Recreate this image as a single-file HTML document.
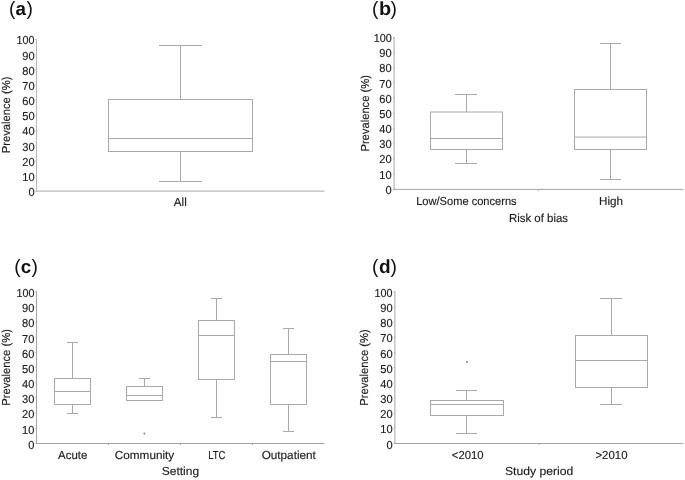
<!DOCTYPE html>
<html><head><meta charset="utf-8"><title>Figure</title>
<style>
html,body{margin:0;padding:0;background:#fff;}
svg{display:block;will-change:transform;}
text{font-family:"Liberation Sans",sans-serif;fill:#1c1c1c;text-rendering:geometricPrecision;stroke:#1c1c1c;stroke-width:0.15px;}
.t{fill:#111;stroke:none;}
</style></head>
<body>
<svg width="685" height="480" viewBox="0 0 685 480">
<rect x="0" y="0" width="685" height="480" fill="#ffffff"/>
<line x1="36.5" y1="39.0" x2="36.5" y2="191.6" stroke="#b8b8b8" stroke-width="1"/>
<line x1="36.0" y1="191.1" x2="324.5" y2="191.1" stroke="#a6a6a6" stroke-width="1"/>
<line x1="35.4" y1="191.1" x2="36.5" y2="191.1" stroke="#b8b8b8" stroke-width="1"/>
<text transform="translate(34.6,196.05) scale(0.955,1)" text-anchor="end" font-size="11.6" >0</text>
<line x1="35.4" y1="175.93" x2="36.5" y2="175.93" stroke="#b8b8b8" stroke-width="1"/>
<text transform="translate(34.6,180.88) scale(0.955,1)" text-anchor="end" font-size="11.6" >10</text>
<line x1="35.4" y1="160.76" x2="36.5" y2="160.76" stroke="#b8b8b8" stroke-width="1"/>
<text transform="translate(34.6,165.71) scale(0.955,1)" text-anchor="end" font-size="11.6" >20</text>
<line x1="35.4" y1="145.59" x2="36.5" y2="145.59" stroke="#b8b8b8" stroke-width="1"/>
<text transform="translate(34.6,150.54) scale(0.955,1)" text-anchor="end" font-size="11.6" >30</text>
<line x1="35.4" y1="130.42" x2="36.5" y2="130.42" stroke="#b8b8b8" stroke-width="1"/>
<text transform="translate(34.6,135.37) scale(0.955,1)" text-anchor="end" font-size="11.6" >40</text>
<line x1="35.4" y1="115.25" x2="36.5" y2="115.25" stroke="#b8b8b8" stroke-width="1"/>
<text transform="translate(34.6,120.2) scale(0.955,1)" text-anchor="end" font-size="11.6" >50</text>
<line x1="35.4" y1="100.08" x2="36.5" y2="100.08" stroke="#b8b8b8" stroke-width="1"/>
<text transform="translate(34.6,105.03) scale(0.955,1)" text-anchor="end" font-size="11.6" >60</text>
<line x1="35.4" y1="84.91" x2="36.5" y2="84.91" stroke="#b8b8b8" stroke-width="1"/>
<text transform="translate(34.6,89.86) scale(0.955,1)" text-anchor="end" font-size="11.6" >70</text>
<line x1="35.4" y1="69.74" x2="36.5" y2="69.74" stroke="#b8b8b8" stroke-width="1"/>
<text transform="translate(34.6,74.69) scale(0.955,1)" text-anchor="end" font-size="11.6" >80</text>
<line x1="35.4" y1="54.57" x2="36.5" y2="54.57" stroke="#b8b8b8" stroke-width="1"/>
<text transform="translate(34.6,59.52) scale(0.955,1)" text-anchor="end" font-size="11.6" >90</text>
<line x1="35.4" y1="39.4" x2="36.5" y2="39.4" stroke="#b8b8b8" stroke-width="1"/>
<text transform="translate(34.6,44.35) scale(0.93,1)" text-anchor="end" font-size="11.6" >100</text>
<text x="0" y="0" text-anchor="middle" font-size="11.6" transform="translate(10.3,114.9) rotate(-90) scale(0.966,1)">Prevalence (%)</text>
<rect x="108.5" y="99.5" width="144.0" height="52.0" fill="none" stroke="#a9a9a9" stroke-width="1"/>
<line x1="108.5" y1="138.5" x2="252.5" y2="138.5" stroke="#a9a9a9" stroke-width="1"/>
<line x1="180.5" y1="45.0" x2="180.5" y2="100.0" stroke="#a9a9a9" stroke-width="1"/>
<line x1="159.0" y1="45.5" x2="202.0" y2="45.5" stroke="#a9a9a9" stroke-width="1"/>
<line x1="180.5" y1="152.0" x2="180.5" y2="182.0" stroke="#a9a9a9" stroke-width="1"/>
<line x1="159.0" y1="181.5" x2="202.0" y2="181.5" stroke="#a9a9a9" stroke-width="1"/>
<text x="180.3" y="206.2" text-anchor="middle" font-size="11.6" >All</text>
<text x="8.9" y="15.4" font-size="19.2" class="t">(</text>
<text transform="translate(15.4,14.9) scale(1.0,1)" font-size="18.8" font-weight="bold" class="t">a</text>
<text x="26.5" y="15.4" font-size="19.2" class="t">)</text>
<line x1="394.1" y1="37.0" x2="394.1" y2="189.9" stroke="#a6a6a6" stroke-width="1"/>
<line x1="393.6" y1="189.4" x2="683.4" y2="189.4" stroke="#a6a6a6" stroke-width="1"/>
<line x1="393.0" y1="189.4" x2="394.1" y2="189.4" stroke="#a6a6a6" stroke-width="1"/>
<text transform="translate(391.7,193.85) scale(0.955,1)" text-anchor="end" font-size="11.6" >0</text>
<line x1="393.0" y1="174.21" x2="394.1" y2="174.21" stroke="#a6a6a6" stroke-width="1"/>
<text transform="translate(391.7,178.66) scale(0.955,1)" text-anchor="end" font-size="11.6" >10</text>
<line x1="393.0" y1="159.02" x2="394.1" y2="159.02" stroke="#a6a6a6" stroke-width="1"/>
<text transform="translate(391.7,163.47) scale(0.955,1)" text-anchor="end" font-size="11.6" >20</text>
<line x1="393.0" y1="143.83" x2="394.1" y2="143.83" stroke="#a6a6a6" stroke-width="1"/>
<text transform="translate(391.7,148.28) scale(0.955,1)" text-anchor="end" font-size="11.6" >30</text>
<line x1="393.0" y1="128.64" x2="394.1" y2="128.64" stroke="#a6a6a6" stroke-width="1"/>
<text transform="translate(391.7,133.09) scale(0.955,1)" text-anchor="end" font-size="11.6" >40</text>
<line x1="393.0" y1="113.45" x2="394.1" y2="113.45" stroke="#a6a6a6" stroke-width="1"/>
<text transform="translate(391.7,117.9) scale(0.955,1)" text-anchor="end" font-size="11.6" >50</text>
<line x1="393.0" y1="98.26" x2="394.1" y2="98.26" stroke="#a6a6a6" stroke-width="1"/>
<text transform="translate(391.7,102.71) scale(0.955,1)" text-anchor="end" font-size="11.6" >60</text>
<line x1="393.0" y1="83.07" x2="394.1" y2="83.07" stroke="#a6a6a6" stroke-width="1"/>
<text transform="translate(391.7,87.52) scale(0.955,1)" text-anchor="end" font-size="11.6" >70</text>
<line x1="393.0" y1="67.88" x2="394.1" y2="67.88" stroke="#a6a6a6" stroke-width="1"/>
<text transform="translate(391.7,72.33) scale(0.955,1)" text-anchor="end" font-size="11.6" >80</text>
<line x1="393.0" y1="52.69" x2="394.1" y2="52.69" stroke="#a6a6a6" stroke-width="1"/>
<text transform="translate(391.7,57.14) scale(0.955,1)" text-anchor="end" font-size="11.6" >90</text>
<line x1="393.0" y1="37.5" x2="394.1" y2="37.5" stroke="#a6a6a6" stroke-width="1"/>
<text transform="translate(391.7,41.95) scale(0.93,1)" text-anchor="end" font-size="11.6" >100</text>
<line x1="538.4" y1="189.4" x2="538.4" y2="190.9" stroke="#a6a6a6" stroke-width="1"/>
<text x="0" y="0" text-anchor="middle" font-size="11.6" transform="translate(368.6,113.3) rotate(-90) scale(0.966,1)">Prevalence (%)</text>
<rect x="430.5" y="112.0" width="72.0" height="37.5" fill="none" stroke="#a9a9a9" stroke-width="1"/>
<line x1="430.5" y1="138.5" x2="502.5" y2="138.5" stroke="#a9a9a9" stroke-width="1"/>
<line x1="466.5" y1="94.0" x2="466.5" y2="112.0" stroke="#a9a9a9" stroke-width="1"/>
<line x1="455.0" y1="94.5" x2="477.0" y2="94.5" stroke="#a9a9a9" stroke-width="1"/>
<line x1="466.5" y1="150.0" x2="466.5" y2="164.0" stroke="#a9a9a9" stroke-width="1"/>
<line x1="455.0" y1="163.5" x2="477.0" y2="163.5" stroke="#a9a9a9" stroke-width="1"/>
<rect x="574.5" y="89.5" width="72.0" height="60.0" fill="none" stroke="#a9a9a9" stroke-width="1"/>
<line x1="574.5" y1="137.05" x2="646.5" y2="137.05" stroke="#a9a9a9" stroke-width="1"/>
<line x1="610.5" y1="43.0" x2="610.5" y2="90.0" stroke="#a9a9a9" stroke-width="1"/>
<line x1="600.0" y1="43.5" x2="621.0" y2="43.5" stroke="#a9a9a9" stroke-width="1"/>
<line x1="610.5" y1="150.0" x2="610.5" y2="180.0" stroke="#a9a9a9" stroke-width="1"/>
<line x1="600.0" y1="179.5" x2="621.0" y2="179.5" stroke="#a9a9a9" stroke-width="1"/>
<text transform="translate(466.4,205.0) scale(0.957,1)" text-anchor="middle" font-size="11.6" >Low/Some concerns</text>
<text transform="translate(611.0,205.0) scale(1.005,1)" text-anchor="middle" font-size="11.6" >High</text>
<text transform="translate(538.5,221.6) scale(0.986,1)" text-anchor="middle" font-size="11.6" >Risk of bias</text>
<text x="372.0" y="14.7" font-size="19.2" class="t">(</text>
<text transform="translate(379.0,14.55) scale(1.045,1)" font-size="19.05" font-weight="bold" class="t">b</text>
<text x="390.4" y="14.7" font-size="19.2" class="t">)</text>
<line x1="36.5" y1="291.2" x2="36.5" y2="444.0" stroke="#a3a3a3" stroke-width="1"/>
<line x1="36.0" y1="443.5" x2="324.5" y2="443.5" stroke="#a3a3a3" stroke-width="1"/>
<line x1="35.4" y1="443.5" x2="36.5" y2="443.5" stroke="#a3a3a3" stroke-width="1"/>
<text transform="translate(34.4,448.85) scale(0.955,1)" text-anchor="end" font-size="11.6" >0</text>
<line x1="35.4" y1="428.32" x2="36.5" y2="428.32" stroke="#a3a3a3" stroke-width="1"/>
<text transform="translate(34.4,433.67) scale(0.955,1)" text-anchor="end" font-size="11.6" >10</text>
<line x1="35.4" y1="413.14" x2="36.5" y2="413.14" stroke="#a3a3a3" stroke-width="1"/>
<text transform="translate(34.4,418.49) scale(0.955,1)" text-anchor="end" font-size="11.6" >20</text>
<line x1="35.4" y1="397.96" x2="36.5" y2="397.96" stroke="#a3a3a3" stroke-width="1"/>
<text transform="translate(34.4,403.31) scale(0.955,1)" text-anchor="end" font-size="11.6" >30</text>
<line x1="35.4" y1="382.78" x2="36.5" y2="382.78" stroke="#a3a3a3" stroke-width="1"/>
<text transform="translate(34.4,388.13) scale(0.955,1)" text-anchor="end" font-size="11.6" >40</text>
<line x1="35.4" y1="367.6" x2="36.5" y2="367.6" stroke="#a3a3a3" stroke-width="1"/>
<text transform="translate(34.4,372.95) scale(0.955,1)" text-anchor="end" font-size="11.6" >50</text>
<line x1="35.4" y1="352.42" x2="36.5" y2="352.42" stroke="#a3a3a3" stroke-width="1"/>
<text transform="translate(34.4,357.77) scale(0.955,1)" text-anchor="end" font-size="11.6" >60</text>
<line x1="35.4" y1="337.24" x2="36.5" y2="337.24" stroke="#a3a3a3" stroke-width="1"/>
<text transform="translate(34.4,342.59) scale(0.955,1)" text-anchor="end" font-size="11.6" >70</text>
<line x1="35.4" y1="322.06" x2="36.5" y2="322.06" stroke="#a3a3a3" stroke-width="1"/>
<text transform="translate(34.4,327.41) scale(0.955,1)" text-anchor="end" font-size="11.6" >80</text>
<line x1="35.4" y1="306.88" x2="36.5" y2="306.88" stroke="#a3a3a3" stroke-width="1"/>
<text transform="translate(34.4,312.23) scale(0.955,1)" text-anchor="end" font-size="11.6" >90</text>
<line x1="35.4" y1="291.7" x2="36.5" y2="291.7" stroke="#a3a3a3" stroke-width="1"/>
<text transform="translate(34.4,297.05) scale(0.93,1)" text-anchor="end" font-size="11.6" >100</text>
<line x1="108.5" y1="443.5" x2="108.5" y2="445.0" stroke="#a3a3a3" stroke-width="1"/>
<line x1="180.5" y1="443.5" x2="180.5" y2="445.0" stroke="#a3a3a3" stroke-width="1"/>
<line x1="252.5" y1="443.5" x2="252.5" y2="445.0" stroke="#a3a3a3" stroke-width="1"/>
<text x="0" y="0" text-anchor="middle" font-size="11.6" transform="translate(10.2,367.4) rotate(-90) scale(0.966,1)">Prevalence (%)</text>
<rect x="54.5" y="378.5" width="36.0" height="26.0" fill="none" stroke="#a9a9a9" stroke-width="1"/>
<line x1="54.5" y1="391.5" x2="90.5" y2="391.5" stroke="#a9a9a9" stroke-width="1"/>
<line x1="72.5" y1="342.0" x2="72.5" y2="378.0" stroke="#a9a9a9" stroke-width="1"/>
<line x1="67.0" y1="342.5" x2="78.0" y2="342.5" stroke="#a9a9a9" stroke-width="1"/>
<line x1="72.5" y1="404.0" x2="72.5" y2="414.0" stroke="#a9a9a9" stroke-width="1"/>
<line x1="67.0" y1="413.5" x2="78.0" y2="413.5" stroke="#a9a9a9" stroke-width="1"/>
<rect x="126.5" y="386.5" width="36.0" height="14.0" fill="none" stroke="#a9a9a9" stroke-width="1"/>
<line x1="126.5" y1="395.5" x2="162.5" y2="395.5" stroke="#a9a9a9" stroke-width="1"/>
<line x1="144.5" y1="378.0" x2="144.5" y2="386.0" stroke="#a9a9a9" stroke-width="1"/>
<line x1="139.0" y1="378.5" x2="150.0" y2="378.5" stroke="#a9a9a9" stroke-width="1"/>
<rect x="198.5" y="320.5" width="36.0" height="59.0" fill="none" stroke="#a9a9a9" stroke-width="1"/>
<line x1="198.5" y1="335.5" x2="234.5" y2="335.5" stroke="#a9a9a9" stroke-width="1"/>
<line x1="216.5" y1="298.0" x2="216.5" y2="320.0" stroke="#a9a9a9" stroke-width="1"/>
<line x1="211.0" y1="298.5" x2="222.0" y2="298.5" stroke="#a9a9a9" stroke-width="1"/>
<line x1="216.5" y1="380.0" x2="216.5" y2="418.0" stroke="#a9a9a9" stroke-width="1"/>
<line x1="211.0" y1="417.5" x2="222.0" y2="417.5" stroke="#a9a9a9" stroke-width="1"/>
<rect x="270.5" y="354.5" width="36.0" height="50.0" fill="none" stroke="#a9a9a9" stroke-width="1"/>
<line x1="270.5" y1="361.5" x2="306.5" y2="361.5" stroke="#a9a9a9" stroke-width="1"/>
<line x1="288.5" y1="328.0" x2="288.5" y2="354.0" stroke="#a9a9a9" stroke-width="1"/>
<line x1="283.0" y1="328.5" x2="294.0" y2="328.5" stroke="#a9a9a9" stroke-width="1"/>
<line x1="288.5" y1="404.0" x2="288.5" y2="432.0" stroke="#a9a9a9" stroke-width="1"/>
<line x1="283.0" y1="431.5" x2="294.0" y2="431.5" stroke="#a9a9a9" stroke-width="1"/>
<circle cx="144.4" cy="433.6" r="1.05" fill="#8f8f8f"/>
<text transform="translate(72.7,458.7) scale(0.985,1)" text-anchor="middle" font-size="11.6" >Acute</text>
<text transform="translate(144.5,458.7) scale(1.014,1)" text-anchor="middle" font-size="11.6" >Community</text>
<text transform="translate(216.85,458.7) scale(0.82,1)" text-anchor="middle" font-size="11.6" >LTC</text>
<text transform="translate(288.75,458.7) scale(1.014,1)" text-anchor="middle" font-size="11.6" >Outpatient</text>
<text transform="translate(180.4,475.1) scale(1.033,1)" text-anchor="middle" font-size="11.6" >Setting</text>
<text x="14.2" y="272.8" font-size="19.2" class="t">(</text>
<text transform="translate(20.85,272.7) scale(1.0,1)" font-size="18.8" font-weight="bold" class="t">c</text>
<text x="31.5" y="272.8" font-size="19.2" class="t">)</text>
<line x1="394.9" y1="291.2" x2="394.9" y2="444.0" stroke="#a6a6a6" stroke-width="1"/>
<line x1="394.4" y1="443.5" x2="683.4" y2="443.5" stroke="#a3a3a3" stroke-width="1"/>
<line x1="393.8" y1="443.5" x2="394.9" y2="443.5" stroke="#a6a6a6" stroke-width="1"/>
<text transform="translate(392.6,448.65) scale(0.955,1)" text-anchor="end" font-size="11.6" >0</text>
<line x1="393.8" y1="428.32" x2="394.9" y2="428.32" stroke="#a6a6a6" stroke-width="1"/>
<text transform="translate(392.6,433.47) scale(0.955,1)" text-anchor="end" font-size="11.6" >10</text>
<line x1="393.8" y1="413.14" x2="394.9" y2="413.14" stroke="#a6a6a6" stroke-width="1"/>
<text transform="translate(392.6,418.29) scale(0.955,1)" text-anchor="end" font-size="11.6" >20</text>
<line x1="393.8" y1="397.96" x2="394.9" y2="397.96" stroke="#a6a6a6" stroke-width="1"/>
<text transform="translate(392.6,403.11) scale(0.955,1)" text-anchor="end" font-size="11.6" >30</text>
<line x1="393.8" y1="382.78" x2="394.9" y2="382.78" stroke="#a6a6a6" stroke-width="1"/>
<text transform="translate(392.6,387.93) scale(0.955,1)" text-anchor="end" font-size="11.6" >40</text>
<line x1="393.8" y1="367.6" x2="394.9" y2="367.6" stroke="#a6a6a6" stroke-width="1"/>
<text transform="translate(392.6,372.75) scale(0.955,1)" text-anchor="end" font-size="11.6" >50</text>
<line x1="393.8" y1="352.42" x2="394.9" y2="352.42" stroke="#a6a6a6" stroke-width="1"/>
<text transform="translate(392.6,357.57) scale(0.955,1)" text-anchor="end" font-size="11.6" >60</text>
<line x1="393.8" y1="337.24" x2="394.9" y2="337.24" stroke="#a6a6a6" stroke-width="1"/>
<text transform="translate(392.6,342.39) scale(0.955,1)" text-anchor="end" font-size="11.6" >70</text>
<line x1="393.8" y1="322.06" x2="394.9" y2="322.06" stroke="#a6a6a6" stroke-width="1"/>
<text transform="translate(392.6,327.21) scale(0.955,1)" text-anchor="end" font-size="11.6" >80</text>
<line x1="393.8" y1="306.88" x2="394.9" y2="306.88" stroke="#a6a6a6" stroke-width="1"/>
<text transform="translate(392.6,312.03) scale(0.955,1)" text-anchor="end" font-size="11.6" >90</text>
<line x1="393.8" y1="291.7" x2="394.9" y2="291.7" stroke="#a6a6a6" stroke-width="1"/>
<text transform="translate(392.6,296.85) scale(0.93,1)" text-anchor="end" font-size="11.6" >100</text>
<line x1="539.1" y1="443.5" x2="539.1" y2="445.0" stroke="#a3a3a3" stroke-width="1"/>
<text x="0" y="0" text-anchor="middle" font-size="11.6" transform="translate(368.3,367.5) rotate(-90) scale(0.966,1)">Prevalence (%)</text>
<rect x="430.5" y="400.5" width="73.0" height="15.0" fill="none" stroke="#a9a9a9" stroke-width="1"/>
<line x1="430.5" y1="404.5" x2="503.5" y2="404.5" stroke="#a9a9a9" stroke-width="1"/>
<line x1="466.5" y1="390.0" x2="466.5" y2="400.0" stroke="#a9a9a9" stroke-width="1"/>
<line x1="456.0" y1="390.5" x2="477.0" y2="390.5" stroke="#a9a9a9" stroke-width="1"/>
<line x1="466.5" y1="416.0" x2="466.5" y2="434.0" stroke="#a9a9a9" stroke-width="1"/>
<line x1="456.0" y1="433.5" x2="477.0" y2="433.5" stroke="#a9a9a9" stroke-width="1"/>
<rect x="575.5" y="335.5" width="72.0" height="52.0" fill="none" stroke="#a9a9a9" stroke-width="1"/>
<line x1="575.5" y1="360.5" x2="647.5" y2="360.5" stroke="#a9a9a9" stroke-width="1"/>
<line x1="611.5" y1="298.0" x2="611.5" y2="336.0" stroke="#a9a9a9" stroke-width="1"/>
<line x1="600.0" y1="298.5" x2="622.0" y2="298.5" stroke="#a9a9a9" stroke-width="1"/>
<line x1="611.5" y1="388.0" x2="611.5" y2="405.0" stroke="#a9a9a9" stroke-width="1"/>
<line x1="600.0" y1="404.5" x2="622.0" y2="404.5" stroke="#a9a9a9" stroke-width="1"/>
<rect x="466" y="361" width="2" height="2" fill="#a6a6a6"/>
<text transform="translate(467.7,458.7) scale(0.976,1)" text-anchor="middle" font-size="11.6" >&lt;2010</text>
<text transform="translate(611.5,458.7) scale(0.986,1)" text-anchor="middle" font-size="11.6" >&gt;2010</text>
<text transform="translate(539.1,475.1) scale(1.047,1)" text-anchor="middle" font-size="11.6" >Study period</text>
<text x="371.9" y="272.8" font-size="19.2" class="t">(</text>
<text transform="translate(378.9,273.15) scale(1.0,1)" font-size="19.05" font-weight="bold" class="t">d</text>
<text x="390.45" y="272.8" font-size="19.2" class="t">)</text>
</svg>
</body></html>
